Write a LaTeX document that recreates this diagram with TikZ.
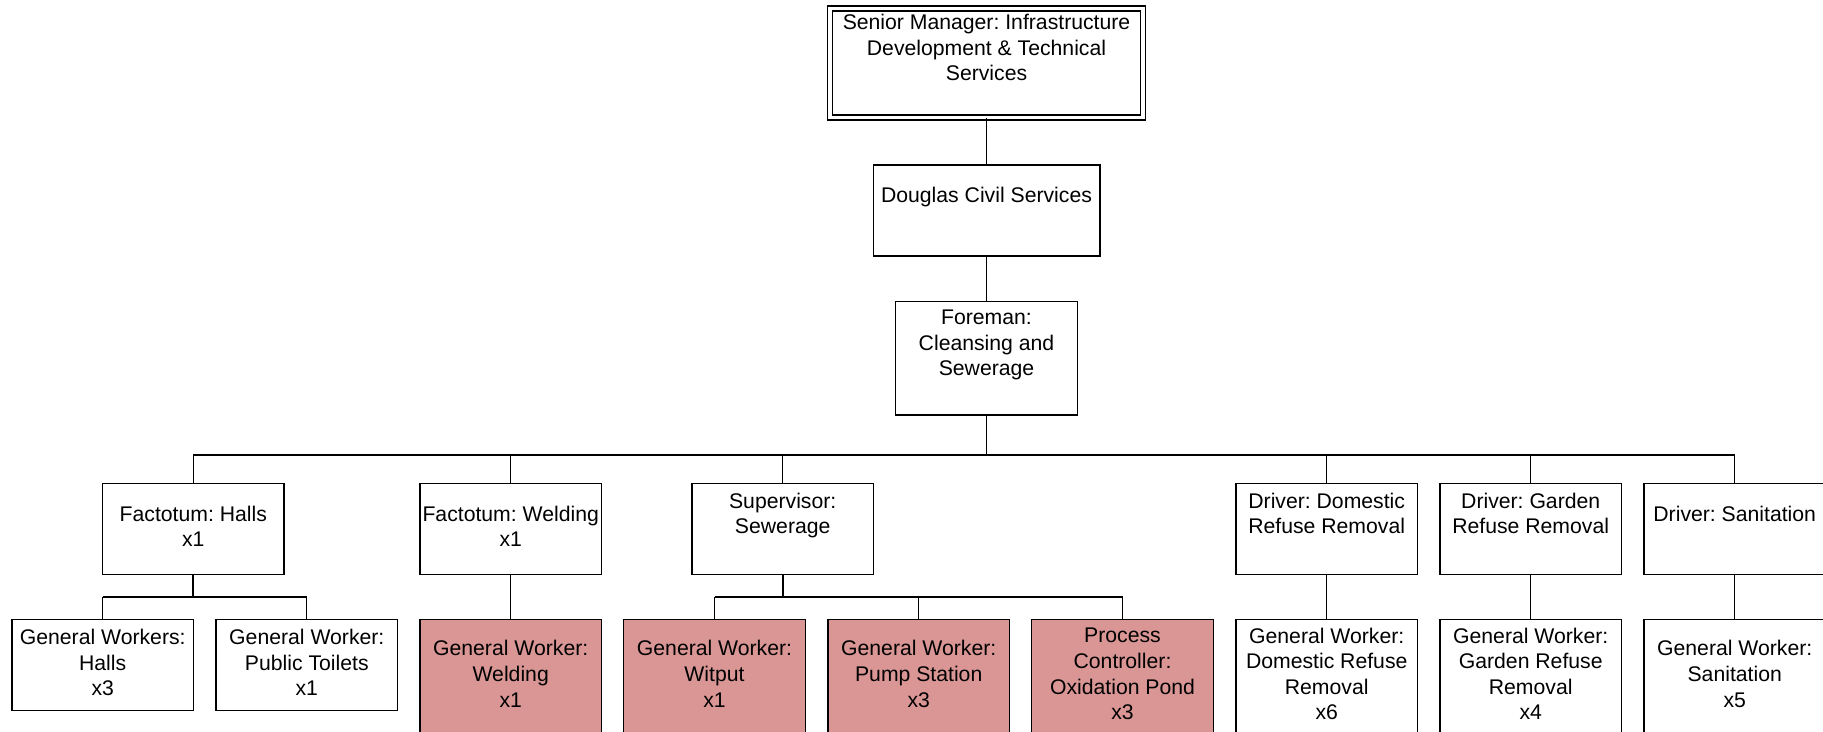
\documentclass[tikz,border=0pt]{standalone}
\usepackage{fontspec}
\setmainfont{Liberation Sans}
\definecolor{pinkfill}{RGB}{217,150,148}
\begin{document}
\frenchspacing
\begin{tikzpicture}[x=0.5pt,y=-0.5pt,
  every node/.style={font=\fontsize{10.6pt}{12.8pt}\selectfont},
  box/.style={draw=black, line width=0.7pt, fill=white, inner sep=0pt, align=center,
    minimum width=90.85pt, minimum height=45.5pt,
    execute at begin node={\rule[-2.6pt]{0pt}{16.3pt}},
    execute at end node={\rule[-2.6pt]{0pt}{12.8pt}}},
  lowbox/.style={box, minimum height=45.3pt},
  tallbox/.style={box, minimum height=57pt},
  hot/.style={tallbox, fill=pinkfill},
  headbox/.style={box, double, double distance=1.7pt, minimum width=156.5pt, minimum height=54.5pt},
  link/.style={line width=0.55pt},
  trunk/.style={line width=0.9pt},
]
\useasboundingbox (0,0) rectangle (1823,732);
\clip (0,0) rectangle (1823,732);

% management chain
\node[headbox] (top) at (986.5,63) {Senior Manager: Infrastructure\\Development \& Technical\\Services\\~};
\node[box, minimum width=113.3pt] (douglas) at (986.5,210.5) {Douglas Civil Services\\~};
\node[box, minimum height=56.65pt] (foreman) at (986.5,358.4) {Foreman:\\Cleansing and\\Sewerage\\~};

% second level
\node[box] (fh) at (193.3,528.8) {Factotum: Halls\\x1};
\node[box] (fw) at (510.7,528.8) {Factotum: Welding\\x1};
\node[box] (sv) at (782.7,528.8) {Supervisor:\\Sewerage\\~};
\node[box] (dd) at (1326.7,528.8) {Driver: Domestic\\Refuse Removal\\~};
\node[box] (dg) at (1530.7,528.8) {Driver: Garden\\Refuse Removal\\~};
\node[box] (ds) at (1734.7,528.8) {Driver: Sanitation\\~};

% third level
\node[lowbox] (gwh) at (102.7,665) {General Workers:\\Halls\\x3};
\node[lowbox] (gwt) at (306.8,665) {General Worker:\\Public Toilets\\x1};
\node[hot] (gww) at (510.7,676.5) {General Worker:\\Welding\\x1};
\node[hot] (gwp) at (714.5,676.5) {General Worker:\\Witput\\x1};
\node[hot] (gwps) at (918.7,676.5) {General Worker:\\Pump Station\\x3};
\node[hot] (pc) at (1122.5,676.5) {Process\\Controller:\\Oxidation Pond\\x3};
\node[tallbox] (gwd) at (1326.7,676.5) {General Worker:\\Domestic Refuse\\Removal\\x6};
\node[tallbox] (gwg) at (1530.7,676.5) {General Worker:\\Garden Refuse\\Removal\\x4};
\node[tallbox] (gws) at (1734.7,676.5) {General Worker:\\Sanitation\\x5};

% bus levels
\coordinate (bus) at (0,455);
\coordinate (sub) at (0,596.7);

% connectors
\draw[link] (top.south) -- (douglas.north);
\draw[link] (douglas.south) -- (foreman.north);
\draw[trunk] (foreman.south) -- (foreman.south |- bus);
\draw[trunk] (fh.north |- bus) -- (ds.north |- bus);
\foreach \n in {fh,fw,sv,dd,dg,ds}
  \draw[link] (\n.north |- bus) -- (\n.north);

\draw[trunk] (fh.south) -- (fh.south |- sub);
\draw[trunk] (gwh.north |- sub) -- (gwt.north |- sub);
\foreach \n in {gwh,gwt}
  \draw[link] (\n.north |- sub) -- (\n.north);

\draw[trunk] (sv.south) -- (sv.south |- sub);
\draw[trunk] (gwp.north |- sub) -- (pc.north |- sub);
\foreach \n in {gwp,gwps,pc}
  \draw[link] (\n.north |- sub) -- (\n.north);

\draw[link] (fw.south) -- (gww.north);
\draw[link] (dd.south) -- (gwd.north);
\draw[link] (dg.south) -- (gwg.north);
\draw[link] (ds.south) -- (gws.north);
\end{tikzpicture}
\end{document}
